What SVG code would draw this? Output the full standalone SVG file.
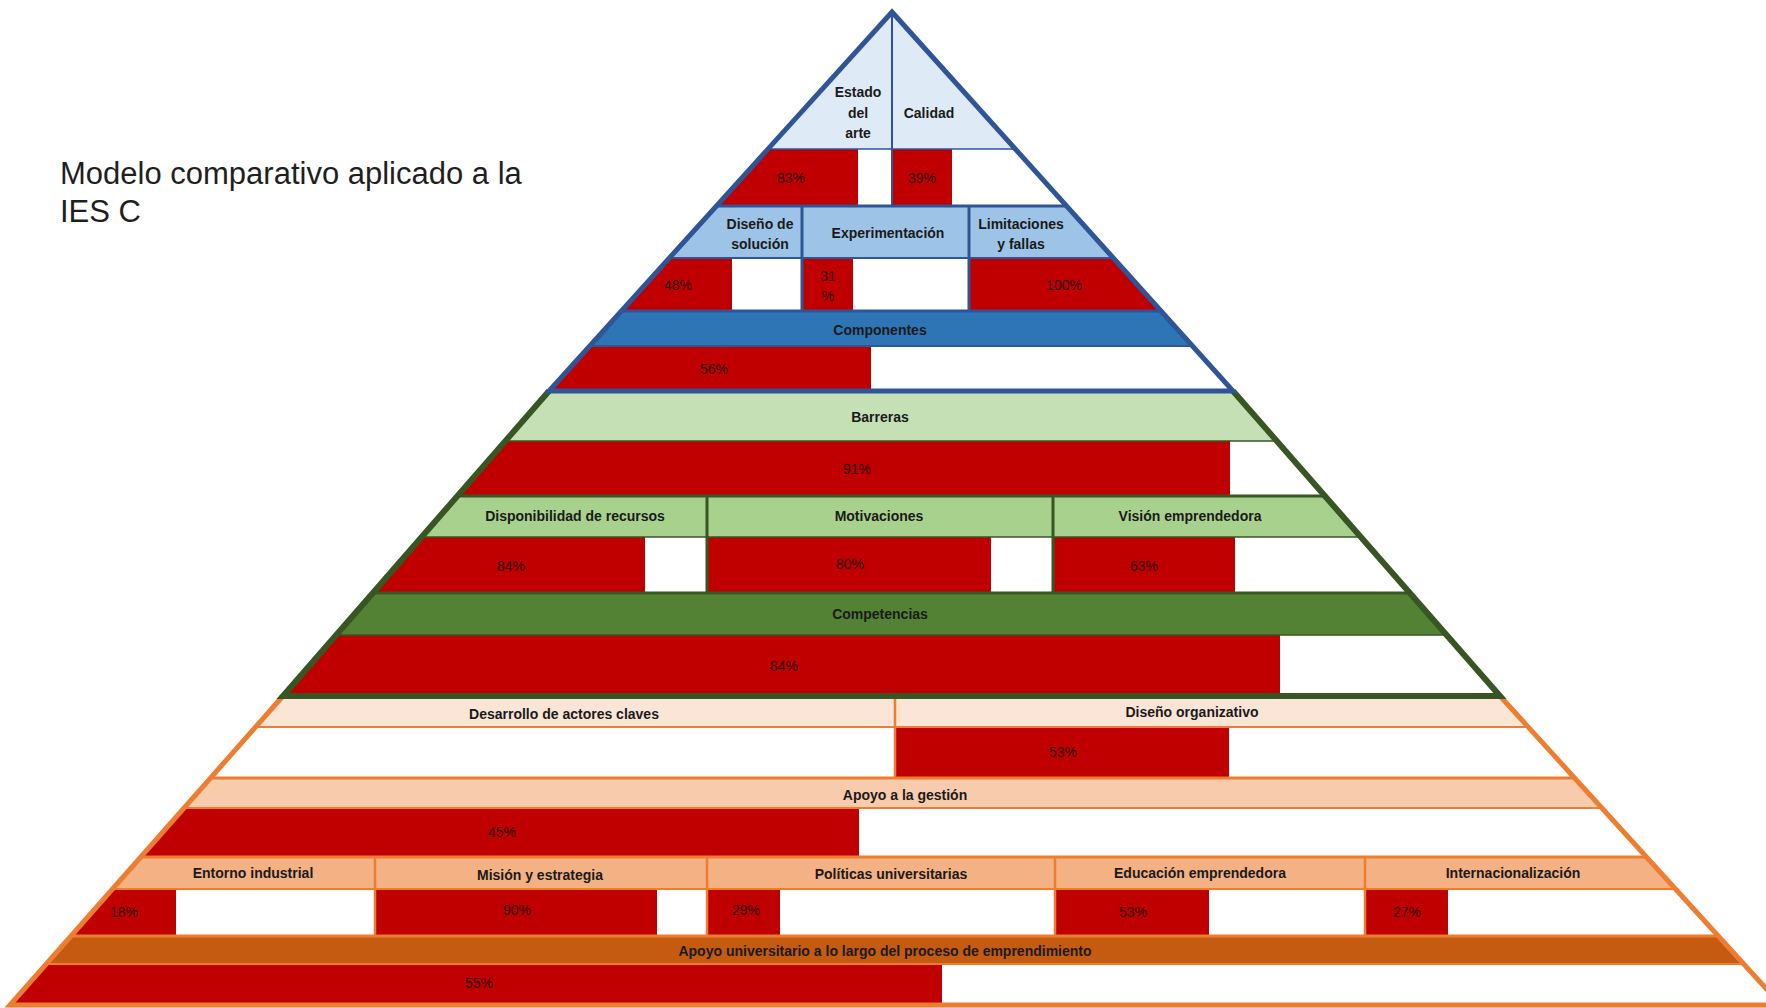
<svg xmlns="http://www.w3.org/2000/svg" width="1766" height="1008" viewBox="0 0 1766 1008">
  <style>
    .lbl { font-family: "Liberation Sans", Arial, sans-serif; font-weight: bold; font-size: 14px; fill: #1a1a1a; text-anchor: middle; dominant-baseline: central; }
    .pct { font-family: "Liberation Sans", Arial, sans-serif; font-size: 14px; fill: #2a0a0a; text-anchor: middle; dominant-baseline: central; }
    .title { font-family: "Liberation Sans", Arial, sans-serif; font-size: 31px; fill: #1f1f1f; }
    .bar { fill: #C00000; }
    .b1 { fill: #DEEBF7; } .b2 { fill: #9DC3E6; } .b3 { fill: #2E75B6; }
    .g1 { fill: #C5E0B4; } .g2 { fill: #A9D18E; } .g3 { fill: #548235; }
    .o1 { fill: #FBE5D6; } .o2 { fill: #F8CBAD; } .o3 { fill: #F4B183; } .o4 { fill: #C55A11; }
    .sepB { stroke: #2F5597; fill: none; }
    .sepG { stroke: #375623; fill: none; }
    .sepO { stroke: #ED7D31; fill: none; }
  </style>
  <defs>
    <clipPath id="clipBlue"><path d="M892,12 L1233,391 L549,391 Z"/></clipPath>
    <clipPath id="clipGreen"><path d="M549,391 L1233,391 L1500,693 L283,693 Z"/></clipPath>
    <clipPath id="clipOrange"><path d="M283,693 L1500,693 L1781,1005 L10,1005 Z"/></clipPath>
  </defs>

  <rect x="0" y="0" width="1766" height="1008" fill="#ffffff"/>

  <g id="title">
    <text class="title" x="60" y="184">Modelo comparativo aplicado a la</text>
    <text class="title" x="60" y="222">IES C</text>
  </g>

  <!-- Upper tier: blue -->
  <g id="tier-blue" clip-path="url(#clipBlue)">
    <g id="estado-del-arte">
      <rect class="b1" x="0" y="12" width="892" height="137"/>
      <rect class="bar" x="0" y="149" width="858" height="57"/>
      <text class="lbl" x="858" y="92">Estado</text>
      <text class="lbl" x="858" y="113">del</text>
      <text class="lbl" x="858" y="133">arte</text>
      <text class="pct" x="791" y="178">83%</text>
    </g>
    <g id="calidad">
      <rect class="b1" x="892" y="12" width="874" height="137"/>
      <rect class="bar" x="892" y="149" width="60" height="57"/>
      <text class="lbl" x="929" y="113">Calidad</text>
      <text class="pct" x="922" y="178">39%</text>
    </g>
    <g id="diseno-solucion">
      <rect class="b2" x="0" y="206" width="802" height="52"/>
      <rect class="bar" x="0" y="258" width="732" height="53"/>
      <text class="lbl" x="760" y="224">Diseño de</text>
      <text class="lbl" x="760" y="244">solución</text>
      <text class="pct" x="678" y="285">48%</text>
    </g>
    <g id="experimentacion">
      <rect class="b2" x="802" y="206" width="167" height="52"/>
      <rect class="bar" x="802" y="258" width="51" height="53"/>
      <text class="lbl" x="888" y="233">Experimentación</text>
      <text class="pct" x="828" y="276">31</text>
      <text class="pct" x="828" y="296">%</text>
    </g>
    <g id="limitaciones-fallas">
      <rect class="b2" x="969" y="206" width="797" height="52"/>
      <rect class="bar" x="969" y="258" width="797" height="53"/>
      <text class="lbl" x="1021" y="224">Limitaciones</text>
      <text class="lbl" x="1021" y="244">y fallas</text>
      <text class="pct" x="1064" y="285">100%</text>
    </g>
    <g id="componentes">
      <rect class="b3" x="0" y="311" width="1766" height="35"/>
      <rect class="bar" x="0" y="346" width="871" height="45"/>
      <text class="lbl" x="880" y="330">Componentes</text>
      <text class="pct" x="714" y="369">56%</text>
    </g>
    <g id="tier-blue-lines">
      <path class="sepB" stroke-width="1.5" d="M0,149 H1766"/>
      <path class="sepB" stroke-width="3" d="M0,206 H1766"/>
      <path class="sepB" stroke-width="2" d="M0,258 H1766"/>
      <path class="sepB" stroke-width="3" d="M0,311 H1766"/>
      <path class="sepB" stroke-width="2" d="M0,346 H1766"/>
      <path class="sepB" stroke-width="2" d="M892,12 V206"/>
      <path class="sepB" stroke-width="3" d="M802,206 V311 M969,206 V311"/>
    </g>
  </g>

  <!-- Middle tier: green -->
  <g id="tier-green" clip-path="url(#clipGreen)">
    <g id="barreras">
      <rect class="g1" x="0" y="391" width="1766" height="50"/>
      <rect class="bar" x="0" y="441" width="1230" height="55"/>
      <text class="lbl" x="880" y="417">Barreras</text>
      <text class="pct" x="857" y="469">91%</text>
    </g>
    <g id="disponibilidad-recursos">
      <rect class="g2" x="0" y="496" width="707" height="41"/>
      <rect class="bar" x="0" y="537" width="645" height="56"/>
      <text class="lbl" x="575" y="516">Disponibilidad de recursos</text>
      <text class="pct" x="511" y="566">84%</text>
    </g>
    <g id="motivaciones">
      <rect class="g2" x="707" y="496" width="346" height="41"/>
      <rect class="bar" x="707" y="537" width="284" height="56"/>
      <text class="lbl" x="879" y="516">Motivaciones</text>
      <text class="pct" x="850" y="564">80%</text>
    </g>
    <g id="vision-emprendedora">
      <rect class="g2" x="1053" y="496" width="713" height="41"/>
      <rect class="bar" x="1053" y="537" width="182" height="56"/>
      <text class="lbl" x="1190" y="516">Visión emprendedora</text>
      <text class="pct" x="1144" y="566">63%</text>
    </g>
    <g id="competencias">
      <rect class="g3" x="0" y="593" width="1766" height="42"/>
      <rect class="bar" x="0" y="635" width="1280" height="58"/>
      <text class="lbl" x="880" y="614">Competencias</text>
      <text class="pct" x="784" y="666">84%</text>
    </g>
    <g id="tier-green-lines">
      <path class="sepG" stroke-width="1.5" d="M0,441 H1766"/>
      <path class="sepG" stroke-width="3" d="M0,496 H1766"/>
      <path class="sepG" stroke-width="1.5" d="M0,537 H1766"/>
      <path class="sepG" stroke-width="3" d="M0,593 H1766"/>
      <path class="sepG" stroke-width="1.5" d="M0,635 H1766"/>
      <path class="sepG" stroke-width="3" d="M707,496 V593 M1053,496 V593"/>
    </g>
  </g>

  <!-- Lower tier: orange -->
  <g id="tier-orange" clip-path="url(#clipOrange)">
    <g id="desarrollo-actores-claves">
      <rect class="o1" x="0" y="693" width="895" height="34"/>
      <text class="lbl" x="564" y="714">Desarrollo de actores claves</text>
    </g>
    <g id="diseno-organizativo">
      <rect class="o1" x="895" y="693" width="871" height="34"/>
      <rect class="bar" x="895" y="727" width="334" height="51"/>
      <text class="lbl" x="1192" y="712">Diseño organizativo</text>
      <text class="pct" x="1063" y="752">53%</text>
    </g>
    <g id="apoyo-gestion">
      <rect class="o2" x="0" y="778" width="1766" height="30"/>
      <rect class="bar" x="0" y="808" width="859" height="49"/>
      <text class="lbl" x="905" y="795">Apoyo a la gestión</text>
      <text class="pct" x="502" y="832">45%</text>
    </g>
    <g id="entorno-industrial">
      <rect class="o3" x="0" y="857" width="375" height="32"/>
      <rect class="bar" x="0" y="889" width="176" height="47"/>
      <text class="lbl" x="253" y="873">Entorno industrial</text>
      <text class="pct" x="124" y="912">18%</text>
    </g>
    <g id="mision-estrategia">
      <rect class="o3" x="375" y="857" width="332" height="32"/>
      <rect class="bar" x="375" y="889" width="282" height="47"/>
      <text class="lbl" x="540" y="875">Misión y estrategia</text>
      <text class="pct" x="517" y="910">90%</text>
    </g>
    <g id="politicas-universitarias">
      <rect class="o3" x="707" y="857" width="348" height="32"/>
      <rect class="bar" x="707" y="889" width="73" height="47"/>
      <text class="lbl" x="891" y="874">Políticas universitarias</text>
      <text class="pct" x="746" y="910">29%</text>
    </g>
    <g id="educacion-emprendedora">
      <rect class="o3" x="1055" y="857" width="310" height="32"/>
      <rect class="bar" x="1055" y="889" width="154" height="47"/>
      <text class="lbl" x="1200" y="873">Educación emprendedora</text>
      <text class="pct" x="1133" y="912">53%</text>
    </g>
    <g id="internacionalizacion">
      <rect class="o3" x="1365" y="857" width="401" height="32"/>
      <rect class="bar" x="1365" y="889" width="83" height="47"/>
      <text class="lbl" x="1513" y="873">Internacionalización</text>
      <text class="pct" x="1407" y="912">27%</text>
    </g>
    <g id="apoyo-universitario">
      <rect class="o4" x="0" y="936" width="1766" height="28"/>
      <rect class="bar" x="0" y="964" width="942" height="41"/>
      <text class="lbl" x="885" y="951">Apoyo universitario a lo largo del proceso de emprendimiento</text>
      <text class="pct" x="479" y="983">55%</text>
    </g>
    <g id="tier-orange-lines">
      <path class="sepO" stroke-width="2" d="M0,727 H1766"/>
      <path class="sepO" stroke-width="3" d="M0,778 H1766"/>
      <path class="sepO" stroke-width="2" d="M0,808 H1766"/>
      <path class="sepO" stroke-width="3" d="M0,857 H1766"/>
      <path class="sepO" stroke-width="2" d="M0,889 H1766"/>
      <path class="sepO" stroke-width="3" d="M0,936 H1766"/>
      <path class="sepO" stroke-width="2" d="M0,964 H1766"/>
      <path class="sepO" stroke-width="2.5" d="M895,693 V778"/>
      <path class="sepO" stroke-width="2.5" d="M375,857 V936 M707,857 V936 M1055,857 V936 M1365,857 V936"/>
    </g>
  </g>

  <!-- Tier outlines -->
  <g id="outlines" fill="none" stroke-linejoin="miter">
    <path d="M283,696 L10,1005 L1781,1005 L1500,696" stroke="#ED7D31" stroke-width="5"/>
    <path d="M549,391 L283,696 L1500,696 L1233,391" stroke="#375623" stroke-width="6"/>
    <path d="M892,12 L1233,391 L549,391 Z" stroke="#2F5597" stroke-width="5"/>
  </g>
</svg>
